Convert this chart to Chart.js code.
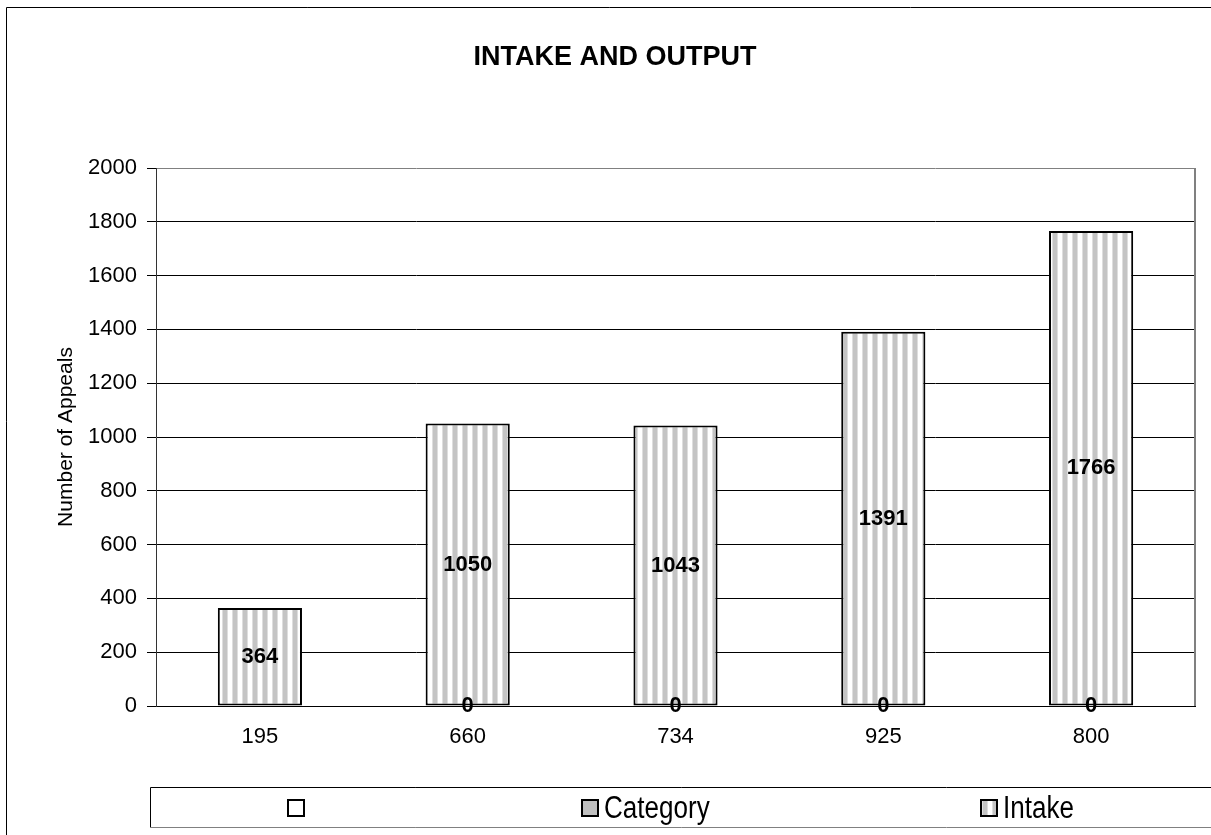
<!DOCTYPE html>
<html>
<head>
<meta charset="utf-8">
<title>Intake and Output</title>
<script src="https://cdn.jsdelivr.net/npm/chart.js@4.4.1/dist/chart.umd.min.js"></script>
<style>
  html, body { margin: 0; padding: 0; background: #fff; }
</style>
</head>
<body>
<canvas id="chart" width="1211" height="835"></canvas>
<script>
const chartTitle = 'INTAKE AND OUTPUT';
const yAxisTitle = 'Number of Appeals';
const categories = ['195', '660', '734', '925', '800'];
const seriesNames = ['', 'Category', 'Intake'];
const blankValues = [null, null, null, null, null];
const categoryValues = [null, 0, 0, 0, 0];
const intakeValues = [364, 1050, 1043, 1391, 1766];
const yMin = 0;
const yMax = 2000;
const yStep = 200;

const FONT = '"Liberation Sans", Arial, sans-serif';

// vertical grey stripes like the old Excel fill pattern
function stripePattern() {
    const c = document.createElement('canvas');
    c.width = 10;
    c.height = 4;
    const g = c.getContext('2d');
    const cols = ['#fff', '#fff', '#dedede', '#c4c4c4', '#c4c4c4', '#c4c4c4', '#c4c4c4', '#dedede', '#fff', '#fff'];
    cols.forEach((col, i) => {
        g.fillStyle = col;
        g.fillRect(i, 0, 1, 4);
    });
    return g.createPattern(c, 'repeat');
}

const stripes = stripePattern();
const swatchFills = ['#ffffff', '#c0c0c0', stripes];

// value labels in the middle of each bar
const barLabels = {
    id: 'barLabels',
    afterDatasetsDraw(chart) {
        const ctx = chart.ctx;
        ctx.save();
        ctx.font = 'bold 22px ' + FONT;
        ctx.fillStyle = '#000';
        ctx.textAlign = 'center';
        ctx.textBaseline = 'middle';
        chart.data.datasets.forEach((ds, i) => {
            const meta = chart.getDatasetMeta(i);
            meta.data.forEach((bar, j) => {
                const v = ds.data[j];
                if (v === null || v === undefined) return;
                const p = bar.getProps(['x', 'y', 'base'], true);
                ctx.fillText(String(v), p.x, (p.y + p.base) / 2);
            });
        });
        ctx.restore();
    }
};

// title, frame, plot border and the boxed legend
const frame = {
    id: 'frame',
    afterDraw(chart) {
        const ctx = chart.ctx;
        const area = chart.chartArea;
        ctx.save();

        ctx.strokeStyle = '#000';
        ctx.lineWidth = 1;
        ctx.beginPath();
        ctx.moveTo(6.5, 840);
        ctx.lineTo(6.5, 7.5);
        ctx.lineTo(1220, 7.5);
        ctx.stroke();

        ctx.strokeStyle = '#808080';
        ctx.lineWidth = 2;
        ctx.beginPath();
        ctx.moveTo(area.right, area.top);
        ctx.lineTo(area.right, area.bottom);
        ctx.stroke();

        ctx.fillStyle = '#000';
        ctx.font = 'bold 27px ' + FONT;
        ctx.textAlign = 'center';
        ctx.textBaseline = 'middle';
        ctx.fillText(chartTitle, 615, 58);

        // legend box
        const top = 787.5, bottom = 827.5, left = 150.5;
        ctx.strokeStyle = '#000';
        ctx.lineWidth = 1;
        ctx.beginPath();
        ctx.moveTo(1220, top);
        ctx.lineTo(left, top);
        ctx.lineTo(left, bottom);
        ctx.stroke();
        ctx.strokeStyle = '#808080';
        ctx.beginPath();
        ctx.moveTo(left, bottom);
        ctx.lineTo(1220, bottom);
        ctx.stroke();

        const itemX = [288, 582, 981];
        const cy = 808;
        ctx.font = '31px ' + FONT;
        ctx.textAlign = 'left';
        chart.data.datasets.forEach((ds, i) => {
            const x = itemX[i];
            ctx.fillStyle = swatchFills[i];
            ctx.fillRect(x, cy - 8, 16, 16);
            ctx.strokeStyle = '#000';
            ctx.lineWidth = 2;
            ctx.strokeRect(x, cy - 8, 16, 16);
            // legend text is tall and narrow in the original
            ctx.save();
            ctx.translate(x + 22, cy + 1);
            ctx.scale(0.84, 1);
            ctx.fillStyle = '#000';
            ctx.fillText(ds.label, 0, 0);
            ctx.restore();
        });

        ctx.restore();
    }
};

new Chart(document.getElementById('chart'), {
    type: 'bar',
    data: {
        labels: categories,
        datasets: [
            {
                label: seriesNames[0],
                data: blankValues,
                backgroundColor: '#ffffff',
                borderWidth: 0
            },
            {
                label: seriesNames[1],
                data: categoryValues,
                backgroundColor: '#c0c0c0',
                borderWidth: 0
            },
            {
                label: seriesNames[2],
                data: intakeValues,
                backgroundColor: stripes,
                borderColor: '#000',
                borderWidth: 2,
                borderSkipped: false
            }
        ]
    },
    options: {
        responsive: false,
        animation: false,
        layout: { padding: { top: 168, right: 16, bottom: 69, left: 0 } },
        datasets: { bar: { categoryPercentage: 1, barPercentage: 0.405 } },
        scales: {
            x: {
                stacked: true,
                grid: { display: false, drawTicks: false },
                border: { display: true, color: '#000', width: 1 },
                ticks: { color: '#000', padding: 18, font: { size: 22, family: FONT } },
                afterFit(scale) { scale.height = 60; }
            },
            y: {
                stacked: true,
                min: yMin,
                max: yMax,
                ticks: {
                    stepSize: yStep,
                    color: '#000',
                    padding: 10,
                    font: { size: 22, family: FONT },
                    callback: v => String(v)
                },
                grid: {
                    color: c => (c.tick && c.tick.value === yMax) ? '#808080' : '#000',
                    tickColor: '#000',
                    tickLength: 9,
                    lineWidth: 1
                },
                border: { display: true, color: '#333', width: 1 },
                title: {
                    display: true,
                    text: yAxisTitle,
                    color: '#000',
                    font: { size: 21, family: FONT },
                    padding: { top: 54, bottom: 0 }
                },
                afterFit(scale) { scale.width = 156; }
            }
        },
        plugins: {
            legend: { display: false },
            title: { display: false },
            tooltip: { enabled: false }
        }
    },
    plugins: [barLabels, frame]
});
</script>
</body>
</html>
